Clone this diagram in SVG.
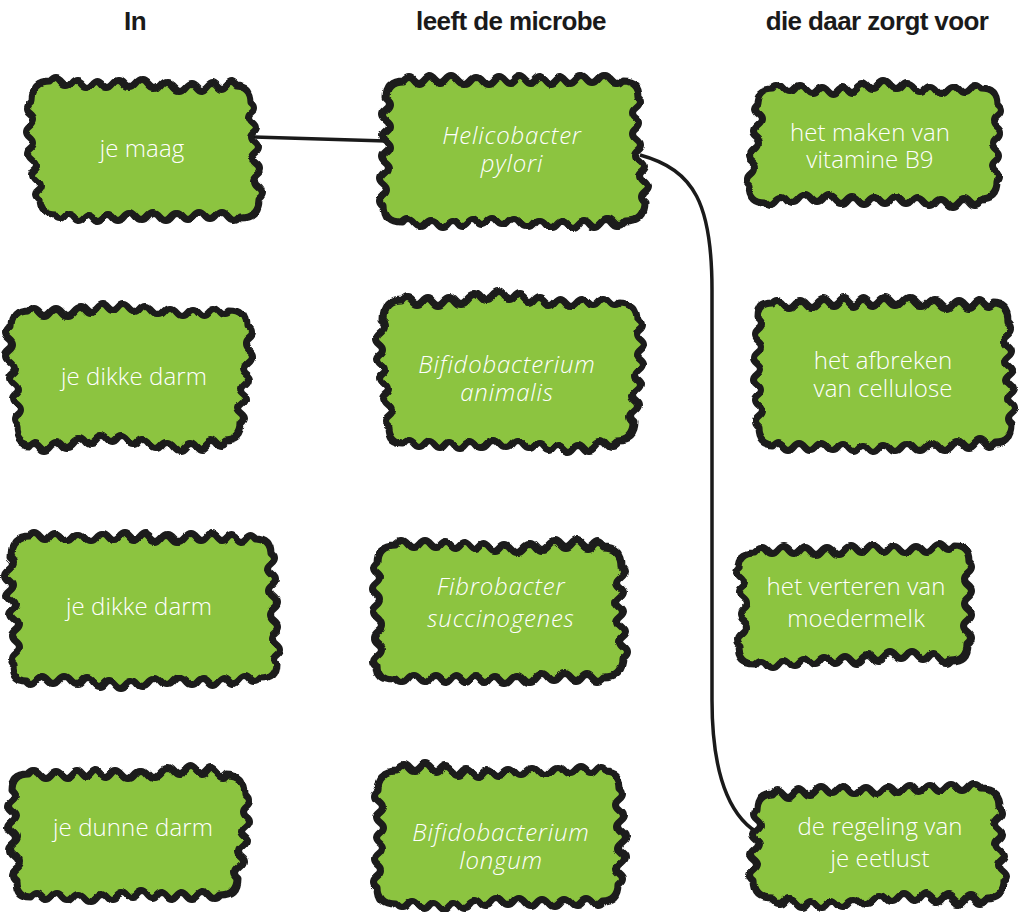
<svg xmlns="http://www.w3.org/2000/svg" width="1025" height="912" viewBox="0 0 1025 912">
<defs>
<filter id="wob" x="-10%" y="-10%" width="120%" height="120%">
<feTurbulence type="fractalNoise" baseFrequency="0.013" numOctaves="1" seed="11" result="n"/>
<feDisplacementMap in="SourceGraphic" in2="n" scale="24" xChannelSelector="R" yChannelSelector="G"/>
</filter>
<style>
.blob{fill:#8cc43f;stroke:#1a1a1a;stroke-width:7;stroke-linejoin:round;filter:url(#wob)}
.t{font-family:"Open Sans",Lato,"Liberation Sans",sans-serif;font-weight:300;font-size:24px;fill:#ffffff;text-anchor:middle;letter-spacing:0.1px}
.i{font-style:italic;letter-spacing:0.8px}
.h{font-family:"Liberation Sans",Arial,sans-serif;font-weight:bold;font-size:26px;fill:#1a1a1a;text-anchor:middle;letter-spacing:-0.6px}
.c{fill:none;stroke:#1a1a1a;stroke-width:3.5}
</style>
</defs>
<g id="headers">
<text class="h" x="135" y="30">In</text>
<text class="h" x="511" y="30">leeft de microbe</text>
<text class="h" x="877" y="30">die daar zorgt voor</text>
</g>
<g id="connectors">
<path class="c" d="M253,137 L386,141"/>
<path class="c" d="M640,155 C695,170 712,205 712,290 L712,700 C712,785 735,822 762,835"/>
</g>
<g id="n1"><path class="blob" d="M50.5,84 q5.5,-7 11,0 t11,0 t11,0 t11,0 t11,0 t11,0  t11,0 t11,0 t11,0 t11,0 t11,0  t11,0 t11,0 t11,0 t11,0 t11,0  t11,0 q16.5,0 16.5,16.5 q7,5.5 0,11 t0,11 t0,11 t0,11 t0,11 t0,11  t0,11 t0,11 t0,11 q0,16.5 -16.5,16.5 q-5.5,7 -11,0 t-11,0 t-11,0 t-11,0 t-11,0 t-11,0  t-11,0 t-11,0 t-11,0 t-11,0 t-11,0  t-11,0 t-11,0 t-11,0 t-11,0 t-11,0  t-11,0 q-16.5,0 -16.5,-16.5 q-7,-5.5 0,-11 t0,-11 t0,-11 t0,-11 t0,-11 t0,-11  t0,-11 t0,-11 t0,-11 q0,-16.5 16.5,-16.5 Z"/><text class="t" x="142" y="157">je maag</text></g>
<g id="n2"><path class="blob" d="M30.5,311 q5.5,-7 11,0 t11,0 t11,0 t11,0 t11,0 t11,0  t11,0 t11,0 t11,0 t11,0 t11,0  t11,0 t11,0 t11,0 t11,0 t11,0  t11,0 t11,0 q16.5,0 16.5,16.5 q7,5.5 0,11 t0,11 t0,11 t0,11 t0,11 t0,11  t0,11 t0,11 t0,11 q0,16.5 -16.5,16.5 q-5.5,7 -11,0 t-11,0 t-11,0 t-11,0 t-11,0 t-11,0  t-11,0 t-11,0 t-11,0 t-11,0 t-11,0  t-11,0 t-11,0 t-11,0 t-11,0 t-11,0  t-11,0 t-11,0 q-16.5,0 -16.5,-16.5 q-7,-5.5 0,-11 t0,-11 t0,-11 t0,-11 t0,-11 t0,-11  t0,-11 t0,-11 t0,-11 q0,-16.5 16.5,-16.5 Z"/><text class="t" x="134" y="385">je dikke darm</text></g>
<g id="n3"><path class="blob" d="M28.5,538 q5.5,-7 11,0 t11,0 t11,0 t11,0 t11,0 t11,0  t11,0 t11,0 t11,0 t11,0 t11,0  t11,0 t11,0 t11,0 t11,0 t11,0  t11,0 t11,0 t11,0 t11,0 t11,0 q16.5,0 16.5,16.5 q7,5.5 0,11 t0,11 t0,11 t0,11 t0,11 t0,11  t0,11 t0,11 t0,11 t0,11 q0,16.5 -16.5,16.5 q-5.5,7 -11,0 t-11,0 t-11,0 t-11,0 t-11,0 t-11,0  t-11,0 t-11,0 t-11,0 t-11,0 t-11,0  t-11,0 t-11,0 t-11,0 t-11,0 t-11,0  t-11,0 t-11,0 t-11,0 t-11,0 t-11,0 q-16.5,0 -16.5,-16.5 q-7,-5.5 0,-11 t0,-11 t0,-11 t0,-11 t0,-11 t0,-11  t0,-11 t0,-11 t0,-11 t0,-11 q0,-16.5 16.5,-16.5 Z"/><text class="t" x="139" y="615">je dikke darm</text></g>
<g id="n4"><path class="blob" d="M27.5,774 q5.5,-7 11,0 t11,0 t11,0 t11,0 t11,0 t11,0  t11,0 t11,0 t11,0 t11,0 t11,0  t11,0 t11,0 t11,0 t11,0 t11,0  t11,0 t11,0 q16.5,0 16.5,16.5 q7,5.5 0,11 t0,11 t0,11 t0,11 t0,11 t0,11  t0,11 t0,11 q0,16.5 -16.5,16.5 q-5.5,7 -11,0 t-11,0 t-11,0 t-11,0 t-11,0 t-11,0  t-11,0 t-11,0 t-11,0 t-11,0 t-11,0  t-11,0 t-11,0 t-11,0 t-11,0 t-11,0  t-11,0 t-11,0 q-16.5,0 -16.5,-16.5 q-7,-5.5 0,-11 t0,-11 t0,-11 t0,-11 t0,-11 t0,-11  t0,-11 t0,-11 q0,-16.5 16.5,-16.5 Z"/><text class="t" x="133" y="836">je dunne darm</text></g>
<g id="n5"><path class="blob" d="M402.5,80 q5.5,-7 11,0 t11,0 t11,0 t11,0 t11,0 t11,0  t11,0 t11,0 t11,0 t11,0 t11,0  t11,0 t11,0 t11,0 t11,0 t11,0  t11,0 t11,0 t11,0 t11,0 q16.5,0 16.5,16.5 q7,5.5 0,11 t0,11 t0,11 t0,11 t0,11 t0,11  t0,11 t0,11 t0,11 t0,11 q0,16.5 -16.5,16.5 q-5.5,7 -11,0 t-11,0 t-11,0 t-11,0 t-11,0 t-11,0  t-11,0 t-11,0 t-11,0 t-11,0 t-11,0  t-11,0 t-11,0 t-11,0 t-11,0 t-11,0  t-11,0 t-11,0 t-11,0 t-11,0 q-16.5,0 -16.5,-16.5 q-7,-5.5 0,-11 t0,-11 t0,-11 t0,-11 t0,-11 t0,-11  t0,-11 t0,-11 t0,-11 t0,-11 q0,-16.5 16.5,-16.5 Z"/><text class="t i" x="512" y="144"><tspan x="512">Helicobacter</tspan><tspan x="512" dy="28">pylori</tspan></text></g>
<g id="n6"><path class="blob" d="M400.5,301 q5.5,-7 11,0 t11,0 t11,0 t11,0 t11,0 t11,0  t11,0 t11,0 t11,0 t11,0 t11,0  t11,0 t11,0 t11,0 t11,0 t11,0  t11,0 t11,0 t11,0 t11,0 q16.5,0 16.5,16.5 q7,5.5 0,11 t0,11 t0,11 t0,11 t0,11 t0,11  t0,11 t0,11 t0,11 t0,11 q0,16.5 -16.5,16.5 q-5.5,7 -11,0 t-11,0 t-11,0 t-11,0 t-11,0 t-11,0  t-11,0 t-11,0 t-11,0 t-11,0 t-11,0  t-11,0 t-11,0 t-11,0 t-11,0 t-11,0  t-11,0 t-11,0 t-11,0 t-11,0 q-16.5,0 -16.5,-16.5 q-7,-5.5 0,-11 t0,-11 t0,-11 t0,-11 t0,-11 t0,-11  t0,-11 t0,-11 t0,-11 t0,-11 q0,-16.5 16.5,-16.5 Z"/><text class="t i" x="507" y="373"><tspan x="507">Bifidobacterium</tspan><tspan x="507" dy="28">animalis</tspan></text></g>
<g id="n7"><path class="blob" d="M393.5,546 q5.5,-7 11,0 t11,0 t11,0 t11,0 t11,0 t11,0  t11,0 t11,0 t11,0 t11,0 t11,0  t11,0 t11,0 t11,0 t11,0 t11,0  t11,0 t11,0 t11,0 q16.5,0 16.5,16.5 q7,5.5 0,11 t0,11 t0,11 t0,11 t0,11 t0,11  t0,11 t0,11 t0,11 q0,16.5 -16.5,16.5 q-5.5,7 -11,0 t-11,0 t-11,0 t-11,0 t-11,0 t-11,0  t-11,0 t-11,0 t-11,0 t-11,0 t-11,0  t-11,0 t-11,0 t-11,0 t-11,0 t-11,0  t-11,0 t-11,0 t-11,0 q-16.5,0 -16.5,-16.5 q-7,-5.5 0,-11 t0,-11 t0,-11 t0,-11 t0,-11 t0,-11  t0,-11 t0,-11 t0,-11 q0,-16.5 16.5,-16.5 Z"/><text class="t i" x="501" y="595"><tspan x="501">Fibrobacter</tspan><tspan x="501" dy="32">succinogenes</tspan></text></g>
<g id="n8"><path class="blob" d="M395.5,772 q5.5,-7 11,0 t11,0 t11,0 t11,0 t11,0 t11,0  t11,0 t11,0 t11,0 t11,0 t11,0  t11,0 t11,0 t11,0 t11,0 t11,0  t11,0 t11,0 t11,0 q16.5,0 16.5,16.5 q7,5.5 0,11 t0,11 t0,11 t0,11 t0,11 t0,11  t0,11 t0,11 t0,11 q0,16.5 -16.5,16.5 q-5.5,7 -11,0 t-11,0 t-11,0 t-11,0 t-11,0 t-11,0  t-11,0 t-11,0 t-11,0 t-11,0 t-11,0  t-11,0 t-11,0 t-11,0 t-11,0 t-11,0  t-11,0 t-11,0 t-11,0 q-16.5,0 -16.5,-16.5 q-7,-5.5 0,-11 t0,-11 t0,-11 t0,-11 t0,-11 t0,-11  t0,-11 t0,-11 t0,-11 q0,-16.5 16.5,-16.5 Z"/><text class="t i" x="501" y="841"><tspan x="501">Bifidobacterium</tspan><tspan x="501" dy="28">longum</tspan></text></g>
<g id="n9"><path class="blob" d="M769.5,90 q5.5,-7 11,0 t11,0 t11,0 t11,0 t11,0 t11,0  t11,0 t11,0 t11,0 t11,0 t11,0  t11,0 t11,0 t11,0 t11,0 t11,0  t11,0 t11,0 t11,0 q16.5,0 16.5,16.5 q7,5.5 0,11 t0,11 t0,11 t0,11 t0,11 t0,11  t0,11 q0,16.5 -16.5,16.5 q-5.5,7 -11,0 t-11,0 t-11,0 t-11,0 t-11,0 t-11,0  t-11,0 t-11,0 t-11,0 t-11,0 t-11,0  t-11,0 t-11,0 t-11,0 t-11,0 t-11,0  t-11,0 t-11,0 t-11,0 q-16.5,0 -16.5,-16.5 q-7,-5.5 0,-11 t0,-11 t0,-11 t0,-11 t0,-11 t0,-11  t0,-11 q0,-16.5 16.5,-16.5 Z"/><text class="t" x="870" y="141"><tspan x="870">het maken van</tspan><tspan x="870" dy="27">vitamine B9</tspan></text></g>
<g id="n10"><path class="blob" d="M772.5,303 q5.5,-7 11,0 t11,0 t11,0 t11,0 t11,0 t11,0  t11,0 t11,0 t11,0 t11,0 t11,0  t11,0 t11,0 t11,0 t11,0 t11,0  t11,0 t11,0 t11,0 t11,0 q16.5,0 16.5,16.5 q7,5.5 0,11 t0,11 t0,11 t0,11 t0,11 t0,11  t0,11 t0,11 t0,11 t0,11 q0,16.5 -16.5,16.5 q-5.5,7 -11,0 t-11,0 t-11,0 t-11,0 t-11,0 t-11,0  t-11,0 t-11,0 t-11,0 t-11,0 t-11,0  t-11,0 t-11,0 t-11,0 t-11,0 t-11,0  t-11,0 t-11,0 t-11,0 t-11,0 q-16.5,0 -16.5,-16.5 q-7,-5.5 0,-11 t0,-11 t0,-11 t0,-11 t0,-11 t0,-11  t0,-11 t0,-11 t0,-11 t0,-11 q0,-16.5 16.5,-16.5 Z"/><text class="t" x="883" y="369"><tspan x="883">het afbreken</tspan><tspan x="883" dy="28">van cellulose</tspan></text></g>
<g id="n11"><path class="blob" d="M757.5,550 q5.5,-7 11,0 t11,0 t11,0 t11,0 t11,0 t11,0  t11,0 t11,0 t11,0 t11,0 t11,0  t11,0 t11,0 t11,0 t11,0 t11,0  t11,0 t11,0 q16.5,0 16.5,16.5 q7,5.5 0,11 t0,11 t0,11 t0,11 t0,11 t0,11  t0,11 q0,16.5 -16.5,16.5 q-5.5,7 -11,0 t-11,0 t-11,0 t-11,0 t-11,0 t-11,0  t-11,0 t-11,0 t-11,0 t-11,0 t-11,0  t-11,0 t-11,0 t-11,0 t-11,0 t-11,0  t-11,0 t-11,0 q-16.5,0 -16.5,-16.5 q-7,-5.5 0,-11 t0,-11 t0,-11 t0,-11 t0,-11 t0,-11  t0,-11 q0,-16.5 16.5,-16.5 Z"/><text class="t" x="856" y="595"><tspan x="856">het verteren van</tspan><tspan x="856" dy="32">moedermelk</tspan></text></g>
<g id="n12"><path class="blob" d="M773.5,790 q5.5,-7 11,0 t11,0 t11,0 t11,0 t11,0 t11,0  t11,0 t11,0 t11,0 t11,0 t11,0  t11,0 t11,0 t11,0 t11,0 t11,0  t11,0 t11,0 t11,0 q16.5,0 16.5,16.5 q7,5.5 0,11 t0,11 t0,11 t0,11 t0,11 t0,11  t0,11 q0,16.5 -16.5,16.5 q-5.5,7 -11,0 t-11,0 t-11,0 t-11,0 t-11,0 t-11,0  t-11,0 t-11,0 t-11,0 t-11,0 t-11,0  t-11,0 t-11,0 t-11,0 t-11,0 t-11,0  t-11,0 t-11,0 t-11,0 q-16.5,0 -16.5,-16.5 q-7,-5.5 0,-11 t0,-11 t0,-11 t0,-11 t0,-11 t0,-11  t0,-11 q0,-16.5 16.5,-16.5 Z"/><text class="t" x="880" y="835"><tspan x="880">de regeling van</tspan><tspan x="880" dy="32">je eetlust</tspan></text></g>
</svg>
